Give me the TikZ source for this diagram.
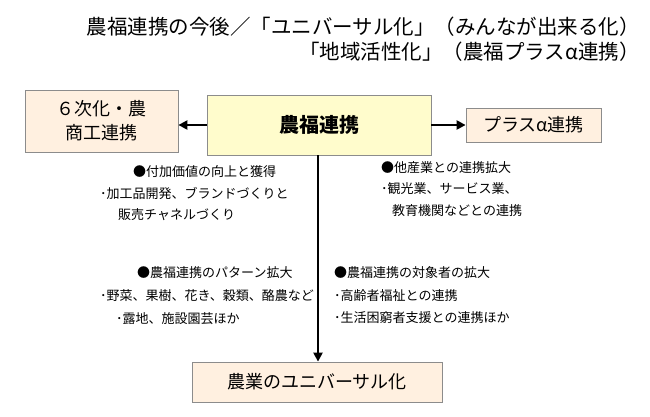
\documentclass[tikz,border=0pt]{standalone}
\usepackage{fontspec}
\setmainfont{Noto Sans CJK JP}
\usetikzlibrary{arrows.meta}
\begin{document}
\begin{tikzpicture}[x=1pt,y=-1pt,
  box/.style={draw=black!45,line width=0.8pt,fill=#1,inner sep=0pt},
  conn/.style={line width=2.2pt,-{Triangle[length=9pt,width=9pt]}},
  small/.style={font=\fontsize{13}{15}\selectfont,anchor=west,inner sep=0pt},
  big/.style={font=\fontsize{20.5}{24}\selectfont,inner sep=0pt}]
\useasboundingbox (0,0) rectangle (650,416);
\node[big,anchor=east] (t1) at (640,27) {農福連携の今後／「ユニバーサル化」（みんなが出来る化）};
\node[big,anchor=east] (t2) at (640,52) {「地域活性化」（農福プラスα連携）};
\node[box=yellow!20, minimum width=224pt, minimum height=60pt, font=\fontsize{20}{24}\selectfont\bfseries] (c) at (319,125) {農福連携};
\node[box=orange!12, minimum width=153pt, minimum height=62pt, font=\fontsize{18}{24}\selectfont, align=center] (l) at (101.5,121) {６次化・農\\商工連携};
\node[box=orange!12, minimum width=135pt, minimum height=34pt, font=\fontsize{18}{22}\selectfont] (r) at (533.5,125) {プラスα連携};
\node[box=orange!12, minimum width=250pt, minimum height=40pt, font=\fontsize{18}{22}\selectfont] (b) at (317,382) {農業のユニバーサル化};
\draw[conn] (c.west) -- (l.east |- c.west);
\draw[conn] (c.east) -- (r.west);
\draw[conn] (318,155) -- (b.north -| 318,0);
\node[small] (a1) at (133,172) {●付加価値の向上と獲得};
\node[small] (a2) at (100,193) {･加工品開発、ブランドづくりと};
\node[small] (a3) at (118,215) {販売チャネルづくり};
\node[small] (b1) at (381,168) {●他産業との連携拡大};
\node[small] (b2) at (381,189) {･観光業、サービス業、};
\node[small] (b3) at (392,211) {教育機関などとの連携};
\node[small] (d1) at (137,273) {●農福連携のパターン拡大};
\node[small] (d2) at (100,296) {･野菜、果樹、花き、穀類、酪農など};
\node[small] (d3) at (116,319) {･露地、施設園芸ほか};
\node[small] (e1) at (334,273) {●農福連携の対象者の拡大};
\node[small] (e2) at (334,296) {･高齢者福祉との連携};
\node[small] (e3) at (334,318) {･生活困窮者支援との連携ほか};
\end{tikzpicture}
\end{document}
